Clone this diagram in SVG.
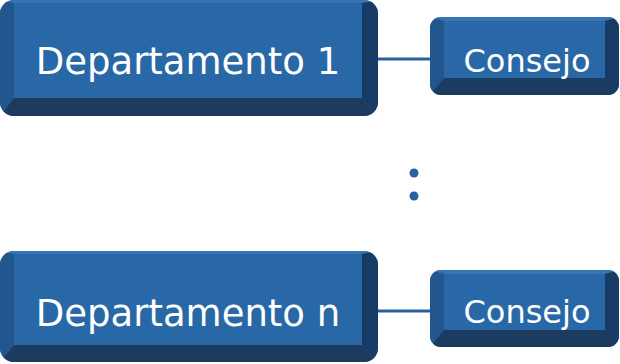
<svg xmlns="http://www.w3.org/2000/svg" width="620" height="364" viewBox="0 0 620 364">
<style>
.face{fill:#2968a7}
.top{fill:#3674b3}
.left{fill:#22568f}
.right{fill:#173b64}
.bottom{fill:#1d3b5f}
.lbl{font-family:"DejaVu Sans",Verdana,sans-serif;fill:#ffffff;text-anchor:middle}
.big{font-size:37px}
.small{font-size:32px}
.conn{stroke:#2a60a0;stroke-width:3;fill:none}
.dot{fill:#2a60a0}
</style>
<defs>
<clipPath id="cb1"><rect x="0" y="0" width="378" height="116" rx="14"/></clipPath>
<clipPath id="cbn"><rect x="0" y="251" width="378" height="111" rx="14"/></clipPath>
<clipPath id="cc1"><rect x="430" y="17" width="189" height="78" rx="11"/></clipPath>
<clipPath id="ccn"><rect x="430" y="270" width="189" height="77" rx="11"/></clipPath>
</defs>
<g id="connectors">
<line class="conn" x1="376" y1="59" x2="432" y2="59"/>
<line class="conn" x1="376" y1="311" x2="432" y2="311"/>
<circle class="dot" cx="414" cy="173" r="4.5"/>
<circle class="dot" cx="414" cy="196" r="4.5"/>
</g>
<g id="dept1">
<g clip-path="url(#cb1)">
<rect class="face" x="0" y="0" width="378" height="116"/>
<polygon class="top" points="0,0 378,0 362,3 14,3"/>
<polygon class="left" points="0,0 14,3 14,98 0,116"/>
<polygon class="right" points="378,0 378,116 362,98 362,3"/>
<polygon class="bottom" points="0,116 14,98 362,98 378,116"/>
</g>
<text class="lbl big" x="188" y="74">Departamento 1</text>
</g>
<g id="consejo1">
<g clip-path="url(#cc1)">
<rect class="face" x="430" y="17" width="189" height="78"/>
<polygon class="top" points="430,17 619,17 605,21 444,21"/>
<polygon class="left" points="430,17 444,21 444,78 430,95"/>
<polygon class="right" points="619,17 619,95 605,78 605,21"/>
<polygon class="bottom" points="430,95 444,78 605,78 619,95"/>
</g>
<text class="lbl small" x="527" y="72">Consejo</text>
</g>
<g id="deptn">
<g clip-path="url(#cbn)">
<rect class="face" x="0" y="251" width="378" height="111"/>
<polygon class="top" points="0,251 378,251 362,254 14,254"/>
<polygon class="left" points="0,251 14,254 14,345 0,362"/>
<polygon class="right" points="378,251 378,362 362,345 362,254"/>
<polygon class="bottom" points="0,362 14,345 362,345 378,362"/>
</g>
<text class="lbl big" x="188" y="326">Departamento n</text>
</g>
<g id="consejon">
<g clip-path="url(#ccn)">
<rect class="face" x="430" y="270" width="189" height="77"/>
<polygon class="top" points="430,270 619,270 605,274 444,274"/>
<polygon class="left" points="430,270 444,274 444,330 430,347"/>
<polygon class="right" points="619,270 619,347 605,330 605,274"/>
<polygon class="bottom" points="430,347 444,330 605,330 619,347"/>
</g>
<text class="lbl small" x="527" y="323">Consejo</text>
</g>
</svg>
